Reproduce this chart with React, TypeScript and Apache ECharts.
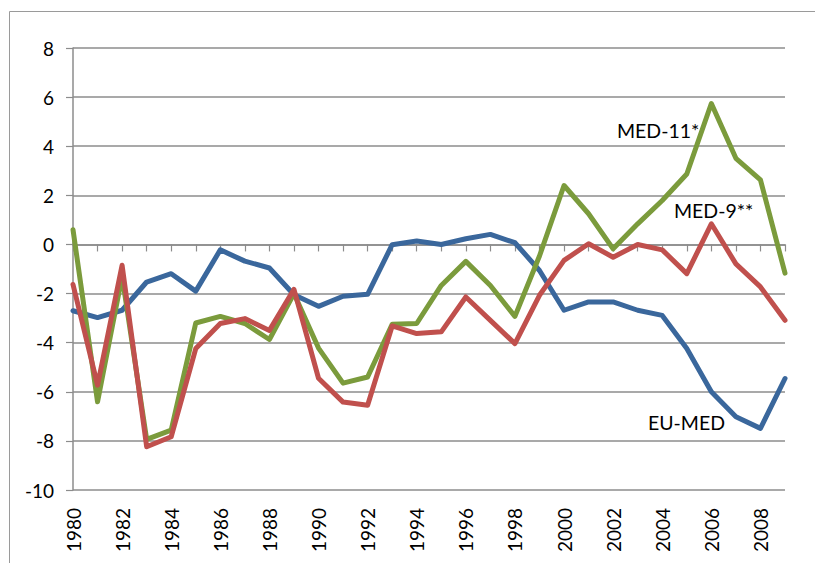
import React, { useEffect, useRef } from "react";
import * as echarts from "echarts";

const years: string[] = [];
for (let y = 1980; y <= 2009; y++) years.push(String(y));

const euMed = [-2.7, -2.98, -2.68, -1.53, -1.19, -1.9, -0.22, -0.68, -0.96, -2.05, -2.52, -2.11, -2.03, -0.01, 0.14, 0.0, 0.23, 0.41, 0.07, -1.06, -2.68, -2.34, -2.34, -2.68, -2.89, -4.24, -6.0, -7.02, -7.49, -5.46];
const med11 = [0.6, -6.41, -1.3, -7.94, -7.56, -3.2, -2.93, -3.22, -3.87, -2.0, -4.22, -5.65, -5.4, -3.25, -3.22, -1.67, -0.69, -1.67, -2.93, -0.47, 2.4, 1.25, -0.18, 0.84, 1.79, 2.87, 5.74, 3.51, 2.63, -1.17];
const med9 = [-1.63, -5.73, -0.85, -8.24, -7.83, -4.24, -3.22, -3.02, -3.5, -1.83, -5.45, -6.42, -6.55, -3.32, -3.63, -3.56, -2.14, -3.09, -4.04, -2.07, -0.65, 0.03, -0.52, 0.0, -0.22, -1.19, 0.84, -0.79, -1.73, -3.09];

const FONT = "Lato, 'Open Sans', sans-serif";
const GRAY = "#8c8c8c";

export default function App() {
  const ref = useRef<HTMLDivElement>(null);
  useEffect(() => {
    if (!ref.current) return;
    const chart = echarts.init(ref.current, null, { renderer: "svg" });
    const line = (name: string, data: number[], color: string) => ({
      name,
      type: "line",
      data,
      showSymbol: false,
      symbol: "none",
      lineStyle: { color, width: 5, cap: "round", join: "round" },
      itemStyle: { color },
    });
    chart.setOption({
      animation: false,
      backgroundColor: "#ffffff",
      grid: { left: 73, right: 30, top: 48, bottom: 73, containLabel: false },
      xAxis: {
        type: "category",
        data: years,
        boundaryGap: false,
        axisLine: { lineStyle: { color: GRAY, width: 1.5 } },
        axisTick: { show: true, interval: 0, length: 7, lineStyle: { color: GRAY, width: 1.2 } },
        axisLabel: { interval: 1, rotate: 90, margin: 18, color: "#000", fontSize: 19, fontFamily: FONT },
        splitLine: { show: false },
      },
      yAxis: {
        type: "value",
        min: -10,
        max: 8,
        interval: 2,
        axisLine: { show: true, lineStyle: { color: GRAY, width: 1.5 } },
        axisTick: { show: true, length: 7, lineStyle: { color: GRAY, width: 1.2 } },
        axisLabel: { margin: 19, color: "#000", fontSize: 19, fontFamily: FONT },
        splitLine: { show: true, lineStyle: { color: GRAY, width: 1.5 } },
      },
      series: [
        line("EU-MED", euMed, "#3A679C"),
        line("MED-11*", med11, "#7B9B3C"),
        line("MED-9**", med9, "#C0504D"),
      ],
      graphic: [
        {
          type: "rect",
          shape: { x: 9.5, y: 11.5, width: 820, height: 570 },
          style: { fill: "none", stroke: "#9a9a9a", lineWidth: 1 },
          silent: true,
          z: -1,
        },
        {
          type: "text",
          x: 617,
          y: 130,
          style: { text: "MED-11*", fill: "#000", fontSize: 19.5, fontFamily: FONT, verticalAlign: "middle" },
        },
        {
          type: "text",
          x: 674,
          y: 210,
          style: { text: "MED-9**", fill: "#000", fontSize: 19.5, fontFamily: FONT, verticalAlign: "middle" },
        },
        {
          type: "text",
          x: 648,
          y: 422,
          style: { text: "EU-MED", fill: "#000", fontSize: 19.5, fontFamily: FONT, verticalAlign: "middle" },
        },
      ],
    });
    return () => chart.dispose();
  }, []);
  return (
    <div
      ref={ref}
      style={{ position: "fixed", left: 0, top: 0, width: 815, height: 563, background: "#fff" }}
    />
  );
}
